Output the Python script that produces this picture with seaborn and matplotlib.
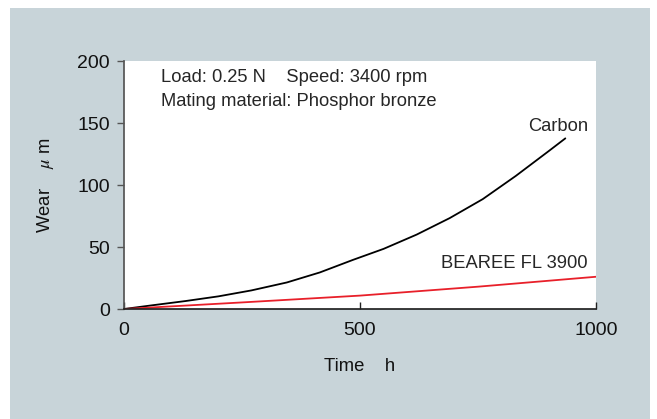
import matplotlib
matplotlib.use("Agg")
import matplotlib.pyplot as plt
import seaborn as sns
from matplotlib.patches import Rectangle

# wear curves
time_carbon = [0, 60, 130, 200, 270, 345, 415, 485, 550, 620, 690, 760, 830, 900, 935]
wear_carbon = [0, 3, 6.4, 10.2, 15, 21.4, 29.5, 39.6, 48.5, 60, 73.3, 88.6, 107.3, 127.4, 137.6]
time_bearee = [0, 250, 500, 750, 1000]
wear_bearee = [0, 5.3, 10.8, 18, 26]

x_ticks = [0, 500, 1000]
y_ticks = [0, 50, 100, 150, 200]

sns.set_theme(style="white")
plt.rcParams["font.family"] = ["Liberation Sans", "DejaVu Sans"]
plt.rcParams["mathtext.fontset"] = "stix"

W, H = 657, 419
fig = plt.figure(figsize=(W / 100, H / 100), dpi=100, facecolor="white")
fig.patches.append(Rectangle((10 / W, 0), 640 / W, 411 / H, transform=fig.transFigure,
                             facecolor="#c8d4d9", edgecolor="none", zorder=-10))

ax = fig.add_axes([124 / W, (H - 309) / H, 472 / W, 248 / H])
ax.set_zorder(1)
ax.set_facecolor("white")

sns.lineplot(x=time_carbon, y=wear_carbon, ax=ax, color="black", linewidth=1.3)
sns.lineplot(x=time_bearee, y=wear_bearee, ax=ax, color="#e8202a", linewidth=1.3)

ax.set_xlim(0, 1000)
ax.set_ylim(0, 200)
ax.set_xticks(x_ticks)
ax.set_yticks(y_ticks)
for s in ["top", "right"]:
    ax.spines[s].set_visible(False)
ax.spines["left"].set_color("#555555")
ax.spines["bottom"].set_color("#222222")
ax.tick_params(axis="y", direction="out", length=5, width=1, color="#555555",
               labelsize=14, pad=5, left=True, labelcolor="#111111")
ax.tick_params(axis="x", direction="in", length=5, width=1, color="#222222",
               labelsize=14, pad=9, bottom=True, labelcolor="#111111")

ax.set_xlabel("Time    h", fontsize=13.3, labelpad=14, color="#111111")
ax.set_ylabel(r"Wear    $\mu$ m", fontsize=13.3, color="#111111")
ax.yaxis.set_label_coords(-68 / 472, 0.5)

ax.text(78, 187, "Load: 0.25 N    Speed: 3400 rpm", fontsize=13.2, va="center")
ax.text(78, 167, "Mating material: Phosphor bronze", fontsize=13.2, va="center")
ax.text(983, 147, "Carbon", fontsize=13.2, ha="right", va="center")
ax.text(983, 37, "BEAREE FL 3900", fontsize=13.2, ha="right", va="center")

fig.savefig("out.png", dpi=100, facecolor="white")
